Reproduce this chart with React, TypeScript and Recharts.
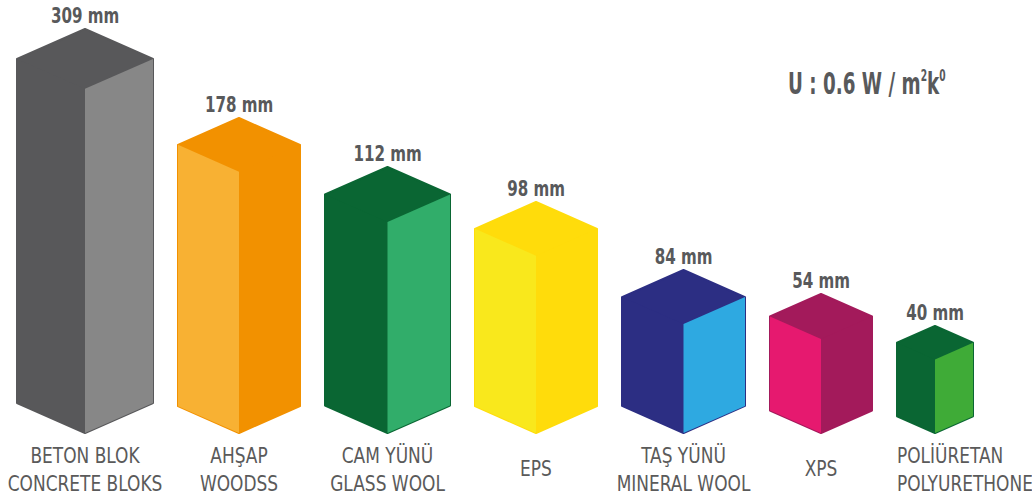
import React from 'react';
import { BarChart, Bar, XAxis, YAxis, LabelList, Customized } from 'recharts';

// ---- data ----
const categoriesTr = ['BETON BLOK', 'AHŞAP', 'CAM YÜNÜ', 'EPS', 'TAŞ YÜNÜ', 'XPS', 'POLİÜRETAN'];
const categoriesEn = ['CONCRETE BLOKS', 'WOODSS', 'GLASS WOOL', '', 'MINERAL WOOL', '', 'POLYURETHONE'];
const thicknessMm = [309, 178, 112, 98, 84, 54, 40];
// drawn height of each block (the pictogram is not to scale)
const drawnHeights = [404, 315, 266, 231, 163, 139, 107];
const annotation = 'U : 0.6 W / m';

// ---- styles ----
const W = 1032;
const H = 497;
const AXIS_H = 64;
const BOX_WIDTHS = [136, 122, 125, 122, 123, 102, 76];
const GAP = 25;
const START = 17;
const TOP_COLORS = ['#58585A', '#F29100', '#0A6633', '#FFDC0B', '#2C2E83', '#A31A5B', '#0A6633'];
const LEFT_COLORS = ['#58585A', '#F8B133', '#0A6633', '#F9E81C', '#2C2E83', '#E6196F', '#0A6633'];
const RIGHT_COLORS = ['#878787', '#F29100', '#31AD6A', '#FFDC0B', '#2EA9E1', '#A31A5B', '#3FAB37'];
const TEXT = '#58595B';
const COND = '"DejaVu Sans Condensed", "Liberation Sans Narrow", sans-serif';

// layout: blocks packed left to right with a constant gap
const centers: number[] = [];
{
  let left = START;
  BOX_WIDTHS.forEach((bw) => {
    centers.push(left + bw / 2);
    left += bw + GAP;
  });
}

const data = categoriesTr.map((c, i) => ({
  name: c,
  en: categoriesEn[i],
  mm: thicknessMm[i],
  h: drawnHeights[i],
  pos: centers[i],
}));

const SText = ({ x, y, sx, anchor = 'middle', children, ...rest }: any) => (
  <text transform={`translate(${x},${y}) scale(${sx},1)`} x={0} y={0} textAnchor={anchor} {...rest}>
    {children}
  </text>
);

const Box = (props: any) => {
  const { x, width, y, height, payload } = props;
  const i = categoriesTr.indexOf(payload.name);
  const cx = x + width / 2;
  const w = BOX_WIDTHS[i] / 2;
  const d = w * 0.44;
  const top = y;
  const base = y + height;
  const hex = `M${cx},${top} L${cx + w},${top + d} L${cx + w},${base - d} L${cx},${base} L${cx - w},${base - d} L${cx - w},${top + d} Z`;
  const left = `M${cx - w},${top + d} L${cx},${top + 2 * d} L${cx},${base} L${cx - w},${base - d} Z`;
  const right = `M${cx},${top + 2 * d} L${cx + w},${top + d} L${cx + w},${base - d} L${cx},${base} Z`;
  return (
    <g>
      <path d={hex} fill={TOP_COLORS[i]} stroke={TOP_COLORS[i]} strokeWidth={2} strokeLinejoin="round" />
      <path d={left} fill={LEFT_COLORS[i]} />
      <path d={right} fill={RIGHT_COLORS[i]} />
    </g>
  );
};

const ValueLabel = (props: any) => {
  const { x, y, width, value } = props;
  return (
    <SText x={x + width / 2} y={y - 6} sx={0.8} fill={TEXT} fontFamily={COND} fontWeight={700} fontSize={21}>
      {`${value} mm`}
    </SText>
  );
};

const CatTick = (props: any) => {
  const { x, payload } = props;
  const i = centers.indexOf(payload.value);
  if (i < 0) return null;
  const tr = categoriesTr[i];
  const en = categoriesEn[i];
  const last = i === centers.length - 1;
  const tx = last ? x - BOX_WIDTHS[i] / 2 : x;
  const anchor = last ? 'start' : 'middle';
  const common = { fill: '#5A5A5A', fontFamily: COND, fontSize: 21, anchor, sx: 0.9 } as any;
  if (!en) {
    return (
      <SText x={tx} y={H - AXIS_H + 43} {...common}>
        {tr}
      </SText>
    );
  }
  return (
    <g>
      <SText x={tx} y={H - AXIS_H + 30} {...common}>
        {tr}
      </SText>
      <SText x={tx} y={H - AXIS_H + 58} {...common}>
        {en}
      </SText>
    </g>
  );
};

const Annotation = () => (
  <SText x={788} y={94} sx={0.68} anchor="start" fill={TEXT} fontFamily={COND} fontWeight={700} fontSize={30}>
    {annotation}
    <tspan fontSize={15} dy={-13}>2</tspan>
    <tspan dy={13}>k</tspan>
    <tspan fontSize={15} dy={-13}>0</tspan>
  </SText>
);

export default function App() {
  return (
    <div style={{ position: 'absolute', left: 0, top: 0, width: W, height: H, background: '#fff' }}>
      <BarChart width={W} height={H} data={data} margin={{ top: 0, right: 0, bottom: 0, left: 0 }}>
        <XAxis
          type="number"
          dataKey="pos"
          domain={[0, W]}
          ticks={centers}
          interval={0}
          height={AXIS_H}
          axisLine={false}
          tickLine={false}
          tick={<CatTick />}
        />
        <YAxis hide domain={[0, H - AXIS_H]} />
        <Bar dataKey="h" barSize={20} shape={<Box />} isAnimationActive={false}>
          <LabelList dataKey="mm" content={<ValueLabel />} />
        </Bar>
        <Customized component={Annotation} />
      </BarChart>
    </div>
  );
}
